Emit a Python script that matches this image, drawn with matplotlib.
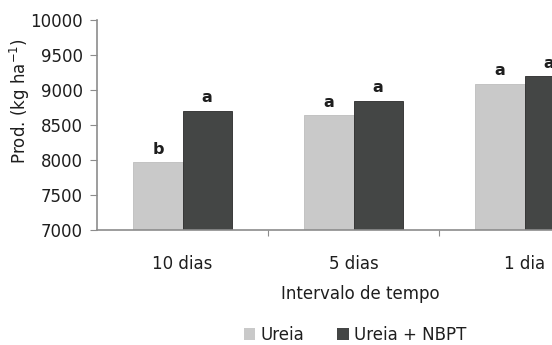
import numpy as np
import matplotlib.pyplot as plt
from matplotlib.patches import Patch

plt.rcParams['font.family'] = ['DejaVu Sans']

categories = ['10 dias', '5 dias', '1 dia']
ureia = [7970, 8640, 9090]
ureia_nbpt = [8700, 8850, 9195]
letters_ureia = ['b', 'a', 'a']
letters_nbpt = ['a', 'a', 'a']
series_names = ['Ureia', 'Ureia + NBPT']

light = '#c9c9c9'
dark = '#444645'
axis_col = '#8c8c8c'
txt = '#1e1e1e'

fig = plt.figure(figsize=(5.52, 3.45), dpi=100)
# axes runs past the right edge, the original picture is cropped there
ax = fig.add_axes([97 / 552, 1 - 230 / 345, 513 / 552, 210 / 345])

x = np.arange(len(categories)) + 0.5
w = 0.287
b1 = ax.bar(x - w / 2, ureia, w, color=light, edgecolor='#bdbdbd', linewidth=0.6)
b2 = ax.bar(x + w / 2, ureia_nbpt, w, color=dark, edgecolor='#2a2a2a', linewidth=0.6)

for bars, labels in [(b1, letters_ureia), (b2, letters_nbpt)]:
    for rect, lab in zip(bars, labels):
        ax.annotate(lab, (rect.get_x() + rect.get_width() / 2, rect.get_height()),
                    xytext=(0, 4), textcoords='offset points', ha='center', va='bottom',
                    fontsize=11.5, fontweight='bold', color=txt)

ax.set_ylim(7000, 10000)
ax.set_yticks(np.arange(7000, 10001, 500))
ax.set_xlim(0, 3)
ax.set_xticks([1, 2])
ax.set_xticklabels([])
ax.set_xticks(x, minor=True)
ax.set_xticklabels(categories, minor=True)
ax.tick_params(axis='x', which='minor', length=0, pad=18, labelsize=12, labelcolor=txt)
ax.tick_params(axis='x', which='major', length=4, color=axis_col)
ax.tick_params(axis='y', length=5, color=axis_col, labelsize=12, labelcolor=txt, pad=5)

for s in ['top', 'right']:
    ax.spines[s].set_visible(False)
for s in ['left', 'bottom']:
    ax.spines[s].set_color(axis_col)
    ax.spines[s].set_linewidth(1.2)

fig.text(20 / 552, 1 - 101 / 345, 'Prod. (kg ha$^{-1}$)', rotation=90, ha='center', va='center',
         fontsize=12, color=txt)
fig.text(360 / 552, 1 - 294 / 345, 'Intervalo de tempo', ha='center', va='center',
         fontsize=12, color=txt)

handles = [Patch(facecolor=light, edgecolor='none'), Patch(facecolor=dark, edgecolor='none')]
fig.legend(handles, series_names, loc='center', bbox_to_anchor=(355 / 552, 1 - 335 / 345),
           ncol=2, frameon=False, fontsize=12, handlelength=0.7, handleheight=0.7,
           handletextpad=0.3, columnspacing=2.0, labelcolor=txt)

fig.savefig('out.png', dpi=100)
